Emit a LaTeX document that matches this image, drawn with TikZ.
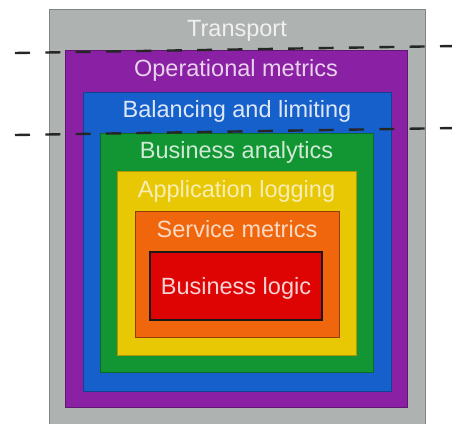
\documentclass[tikz,border=0pt]{standalone}
\usepackage{fontspec}
\setmainfont{Liberation Sans}
\usepackage{tikz}

\definecolor{transportgray}{RGB}{174,178,176}
\definecolor{opspurple}{RGB}{138,32,163}
\definecolor{balanceblue}{RGB}{22,96,204}
\definecolor{analyticsgreen}{RGB}{18,150,52}
\definecolor{loggingyellow}{RGB}{232,200,4}
\definecolor{metricsorange}{RGB}{240,102,12}
\definecolor{logicred}{RGB}{222,4,4}

\begin{document}
\begin{tikzpicture}[x=1pt, y=-1pt,
        layer/.style={draw, line width=0.8pt, anchor=north west, inner sep=0pt, outer sep=0pt},
        title/.style={anchor=base, font=\fontsize{23.5}{28}\selectfont},
        boundary/.style={draw=black!85, line width=2.4pt, dash pattern=on 15pt off 15.36pt}]
    \useasboundingbox (0,0) rectangle (452,423);

    \node[layer, fill=transportgray, draw=transportgray!75!black, minimum width=376pt, minimum height=420pt] (transport) at (49,9) {};
    \node[layer, fill=opspurple, draw=opspurple!70!black, minimum width=342pt, minimum height=357pt] (operational) at (65,50) {};
    \node[layer, fill=balanceblue, draw=balanceblue!70!black, minimum width=308pt, minimum height=299pt] (balancing) at (83,92) {};
    \node[layer, fill=analyticsgreen, draw=analyticsgreen!70!black, minimum width=273pt, minimum height=239pt] (analytics) at (100,133) {};
    \node[layer, fill=loggingyellow, draw=loggingyellow!75!black, minimum width=239pt, minimum height=184pt] (logging) at (117,171) {};
    \node[layer, fill=metricsorange, draw=metricsorange!60!black, minimum width=204pt, minimum height=126pt] (servicemetrics) at (135,211) {};
    \node[layer, fill=logicred, draw=black!90, line width=2pt, minimum width=172pt, minimum height=68pt] (logic) at (150,252) {};

    \node[title, text=white!94!black] (transportlabel) at (237,36) {Transport};
    \node[title, text=opspurple!20!white] (operationallabel) at (236,76) {Operational metrics};
    \node[title, text=balanceblue!15!white] (balancinglabel) at (237,117) {Balancing and limiting};
    \node[title, text=analyticsgreen!20!white] (analyticslabel) at (236.5,158) {Business analytics};
    \node[title, text=loggingyellow!30!white] (logginglabel) at (236.5,197) {Application logging};
    \node[title, text=metricsorange!25!white] (servicemetricslabel) at (237,237) {Service metrics};
    \node[title, text=logicred!18!white] (logiclabel) at (236,294) {Business logic};

    \draw[boundary] (15,53) -- (455,46);
    \draw[boundary] (15,135) -- (455,128);
\end{tikzpicture}
\end{document}
